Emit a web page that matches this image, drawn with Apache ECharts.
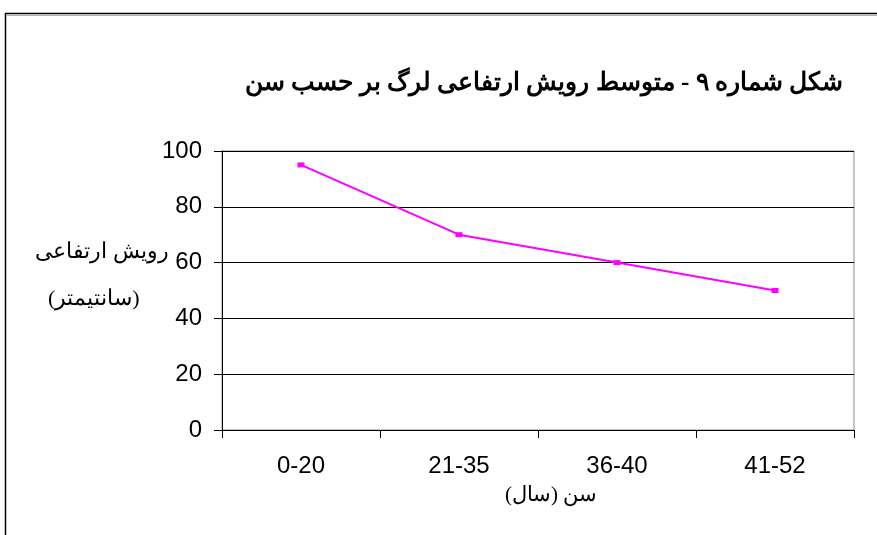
<!DOCTYPE html>
<html><head><meta charset="utf-8">
<script src="https://cdn.jsdelivr.net/npm/echarts@6/dist/echarts.min.js"></script>
<style>html,body{margin:0;padding:0;background:#fff}#c{width:877px;height:535px}</style>
</head><body><div id="c"></div>
<script>
const categories = ['0-20', '21-35', '36-40', '41-52'];
const growthValues = [95, 70, 60, 50];
const titleText = 'شکل شماره ۹ - متوسط رویش ارتفاعی لرگ بر حسب سن';
const yAxisTitle1 = 'رویش ارتفاعی';
const yAxisTitle2 = '(سانتیمتر)';
const xAxisTitle = 'سن (سال)';

const chart = echarts.init(document.getElementById('c'));
const serif = '"Times New Roman","Liberation Serif","DejaVu Serif",serif';
const sans = '"Liberation Sans",Arial,sans-serif';
chart.setOption({
  animation: false,
  backgroundColor: '#fff',
  grid: { left: 222, right: 23, top: 151, bottom: 105, show: true, borderColor: '#8c8c8c', borderWidth: 1 },
  xAxis: {
    type: 'category', data: categories, boundaryGap: true,
    axisLine: { lineStyle: { color: '#000', width: 1 } },
    axisTick: { show: true, length: 8, lineStyle: { color: '#000' } },
    axisLabel: { color: '#000', fontSize: 24, fontFamily: sans, margin: 24 }
  },
  yAxis: {
    type: 'value', min: 0, max: 100, interval: 20,
    axisLine: { show: true, lineStyle: { color: '#000', width: 1 } },
    axisTick: { show: true, length: 8, lineStyle: { color: '#000' } },
    axisLabel: { color: '#000', fontSize: 24, fontFamily: sans, margin: 20 },
    splitLine: { lineStyle: { color: '#000', width: 1 } }
  },
  series: [{
    type: 'line', data: growthValues,
    lineStyle: { color: '#ff00ff', width: 2 },
    itemStyle: { color: '#ff00ff' },
    symbol: 'rect', symbolSize: [7, 5], showSymbol: true
  }],
  graphic: [
    { type: 'rect', shape: { x: 5.5, y: 13.5, width: 900, height: 600 }, style: { fill: null, stroke: '#000', lineWidth: 1.5 }, z: 100 },
    { type: 'line', shape: { x1: 7, y1: 15.5, x2: 877, y2: 15.5 }, style: { stroke: '#b0b0b0', lineWidth: 1 }, z: 100 },
    { type: 'text', x: 843, y: 84, style: { text: titleText, font: 'bold 25px ' + serif, fill: '#000', textAlign: 'right', textVerticalAlign: 'middle' } },
    { type: 'text', x: 35, y: 252, style: { text: yAxisTitle1, font: '22px ' + serif, fill: '#000', textAlign: 'left', textVerticalAlign: 'middle' } },
    { type: 'text', x: 48, y: 299, style: { text: yAxisTitle2, font: '22px ' + serif, fill: '#000', textAlign: 'left', textVerticalAlign: 'middle' } },
    { type: 'text', x: 551, y: 495, style: { text: xAxisTitle, font: '21px ' + serif, fill: '#000', textAlign: 'center', textVerticalAlign: 'middle' } }
  ]
});
</script></body></html>
